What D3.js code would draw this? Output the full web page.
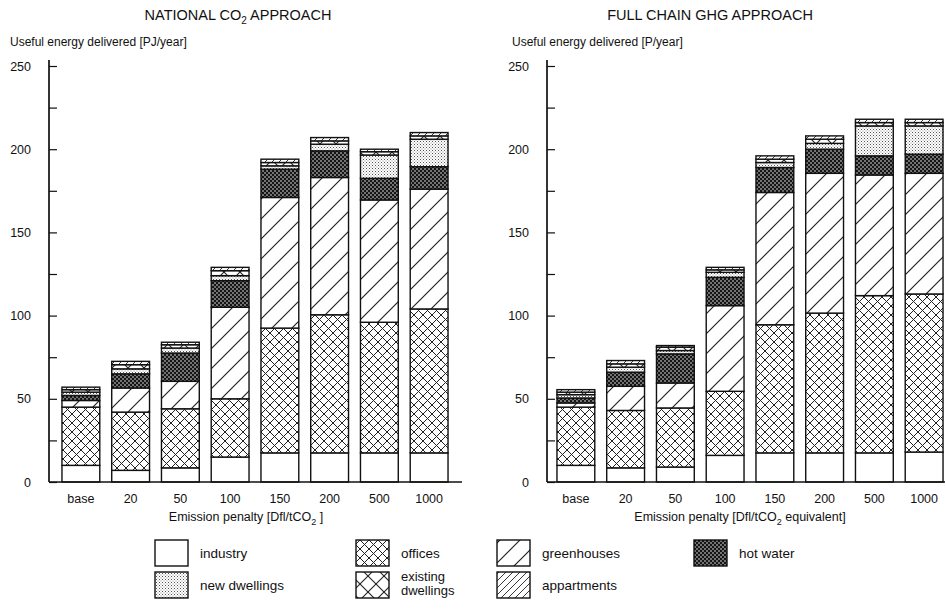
<!DOCTYPE html>
<html><head><meta charset="utf-8">
<script src="https://cdn.jsdelivr.net/npm/d3@7"></script>
<style>
body{margin:0;background:#fff;}
text{font-family:"Liberation Sans",Arial,Helvetica,sans-serif;fill:#111;}
</style></head>
<body><svg id="c" width="946" height="610"></svg>
<script>
const categories = ["base","20","50","100","150","200","500","1000"];
const seriesNames = ["industry","offices","greenhouses","hot water","new dwellings","existing dwellings","appartments"];
const yTicks = [0,25,50,75,100,125,150,175,200,225,250];

// NATIONAL CO2 APPROACH (PJ/year)
const natIndustry   = [10, 7, 8.5, 15, 17.5, 17.5, 17.5, 17.5];
const natOffices    = [35, 35, 35.5, 35, 75, 83, 78.5, 86.5];
const natGreenhouse = [4, 14.5, 16.5, 55, 78.5, 82.5, 73.5, 72];
const natHotWater   = [3, 8.5, 17, 16, 17, 16, 13, 13.5];
const natNewDwell   = [2, 3, 3, 3, 2, 4, 14, 16.5];
const natExistDwell = [1.5, 2.5, 2, 3, 2, 2, 2, 2];
const natAppart     = [1.5, 2, 1.5, 2, 2, 2, 1.5, 2];

// FULL CHAIN GHG APPROACH (PJ/year)
const fullIndustry   = [10, 8.5, 9, 16, 17.5, 17.5, 17.5, 18];
const fullOffices    = [35, 34.5, 35.5, 38.5, 77, 84, 94.5, 95];
const fullGreenhouse = [2.5, 14.5, 15, 51.5, 79.5, 84, 72.5, 72.5];
const fullHotWater   = [3, 8.5, 17.5, 17, 15, 14.5, 11.5, 11.5];
const fullNewDwell   = [2, 3, 2, 3, 3, 3.5, 18, 17];
const fullExistDwell = [1.5, 2, 2, 1.5, 2, 2.5, 2, 2];
const fullAppart     = [1.5, 2, 1, 1.5, 2, 2, 2, 2];

const svg = d3.select("#c");
const defs = svg.append("defs");

function hatch(id, size, paths, bg, sw, color){
  const p = defs.append("pattern").attr("id", id).attr("patternUnits","userSpaceOnUse")
    .attr("width", size).attr("height", size);
  p.append("rect").attr("width", size).attr("height", size).attr("fill", bg);
  paths.forEach(d => p.append("path").attr("d", d).attr("stroke", color).attr("stroke-width", sw).attr("fill","none"));
  return p;
}
function diagUp(s){ return `M0,${s} L${s},0 M${-s/2},${s/2} L${s/2},${-s/2} M${s/2},${s*1.5} L${s*1.5},${s/2}`; }
function diagDown(s){ return `M0,0 L${s},${s} M${-s/2},${s/2} L${s/2},${s*1.5} M${s/2},${-s/2} L${s*1.5},${s/2}`; }
hatch("p-offices", 9, [diagUp(9), diagDown(9)], "#fff", 1, "#222");
hatch("p-exist", 16, [diagUp(16), diagDown(16)], "#fff", 1.1, "#222");
hatch("p-green", 20, [diagUp(20)], "#fff", 1.2, "#222");
hatch("p-appart", 7, [diagUp(7)], "#fff", 0.9, "#222");
{
  const p = defs.append("pattern").attr("id","p-hot").attr("patternUnits","userSpaceOnUse").attr("width",4).attr("height",4);
  p.append("rect").attr("width",4).attr("height",4).attr("fill","#151515");
  p.append("circle").attr("cx",1).attr("cy",1).attr("r",0.75).attr("fill","#fff");
  p.append("circle").attr("cx",3).attr("cy",3).attr("r",0.75).attr("fill","#fff");
}
{
  const p = defs.append("pattern").attr("id","p-new").attr("patternUnits","userSpaceOnUse").attr("width",3).attr("height",3);
  p.append("rect").attr("width",3).attr("height",3).attr("fill","#fff");
  p.append("rect").attr("x",0).attr("y",0).attr("width",1).attr("height",1).attr("fill","#555");
  p.append("rect").attr("x",1.5).attr("y",1.5).attr("width",1).attr("height",1).attr("fill","#888");
}
const fills = {
  "industry":"#fff",
  "offices":"url(#p-offices)",
  "greenhouses":"url(#p-green)",
  "hot water":"url(#p-hot)",
  "new dwellings":"url(#p-new)",
  "existing dwellings":"url(#p-exist)",
  "appartments":"url(#p-appart)"
};

const y = d3.scaleLinear().domain([0,250]).range([482,66]);

function buildRows(arrs){
  return categories.map((c,i) => {
    const r = {cat:c};
    seriesNames.forEach((s,k) => r[s] = arrs[k][i]);
    return r;
  });
}

function drawPanel(opts){
  const g = svg.append("g");
  const x = d3.scaleBand().domain(categories).range(opts.xr).paddingInner(0.24).paddingOuter(0.12);
  const rows = buildRows(opts.arrs);
  const stacked = d3.stack().keys(seriesNames)(rows);

  stacked.forEach(layer => {
    g.append("g").selectAll("rect").data(layer).join("rect")
      .attr("x", d => x(d.data.cat))
      .attr("width", x.bandwidth())
      .attr("y", d => y(d[1]))
      .attr("height", d => y(d[0]) - y(d[1]))
      .attr("fill", fills[layer.key])
      .attr("stroke", "#111").attr("stroke-width", 1.4);
  });

  const ya = d3.axisLeft(y).tickValues(yTicks).tickSizeInner(-8).tickSizeOuter(0)
    .tickPadding(18).tickFormat(d => d % 50 === 0 ? d : "");
  const ag = g.append("g").attr("transform", `translate(${opts.ax},0)`).call(ya);
  ag.select(".domain").attr("stroke","#111").attr("stroke-width",1.7).attr("d", `M0,${y(0)}V${y(250)-6}`);
  ag.selectAll(".tick line").attr("stroke","#111").attr("stroke-width",1.2);
  ag.selectAll(".tick text").attr("font-size",12.5).attr("font-family","Liberation Sans, Arial, sans-serif").attr("fill","#111");

  const xa = d3.axisBottom(x).tickSize(0).tickPadding(12);
  const xg = g.append("g").attr("transform", `translate(0,${y(0)})`).call(xa);
  xg.select(".domain").remove();
  xg.selectAll(".tick text").attr("font-size",12.5).attr("font-family","Liberation Sans, Arial, sans-serif").attr("fill","#111");
  g.append("line").attr("x1", opts.ax).attr("x2", opts.xend).attr("y1", y(0)).attr("y2", y(0))
    .attr("stroke","#111").attr("stroke-width",1.7);

  const t = g.append("text").attr("x", opts.tx).attr("y", 20).attr("text-anchor","middle").attr("font-size",14.5);
  opts.title(t);
  g.append("text").attr("x", opts.ylx).attr("y", 46).attr("font-size",12).text(opts.ylabel);
  const xt = g.append("text").attr("x", opts.xtx).attr("y", 521).attr("text-anchor","middle").attr("font-size",12.5);
  opts.xtitle(xt);
}

drawPanel({
  arrs:[natIndustry,natOffices,natGreenhouse,natHotWater,natNewDwell,natExistDwell,natAppart],
  xr:[56,454], ax:49, xend:462, tx:238, ylx:10, xtx:246,
  ylabel:"Useful energy delivered [PJ/year]",
  title: t => { t.append("tspan").text("NATIONAL CO"); t.append("tspan").attr("font-size",10).attr("dy",4).text("2"); t.append("tspan").attr("dy",-4).text(" APPROACH"); },
  xtitle: t => { t.append("tspan").text("Emission penalty [Dfl/tCO"); t.append("tspan").attr("font-size",9).attr("dy",4).text("2"); t.append("tspan").attr("dy",-4).text(" ]"); }
});
drawPanel({
  arrs:[fullIndustry,fullOffices,fullGreenhouse,fullHotWater,fullNewDwell,fullExistDwell,fullAppart],
  xr:[551,949], ax:547, xend:945, tx:710, ylx:512, xtx:740,
  ylabel:"Useful energy delivered [P/year]",
  title: t => { t.text("FULL CHAIN GHG APPROACH"); },
  xtitle: t => { t.append("tspan").text("Emission penalty [Dfl/tCO"); t.append("tspan").attr("font-size",9).attr("dy",4).text("2"); t.append("tspan").attr("dy",-4).text("  equivalent]"); }
});

const legendItems = [
  {name:"industry", x:155, y:540},
  {name:"offices", x:356, y:540},
  {name:"greenhouses", x:497, y:540},
  {name:"hot water", x:694, y:540},
  {name:"new dwellings", x:155, y:572},
  {name:"existing dwellings", x:356, y:572},
  {name:"appartments", x:497, y:572}
];
const lg = svg.append("g");
legendItems.forEach(it => {
  lg.append("rect").attr("x", it.x).attr("y", it.y).attr("width", 33).attr("height", 26)
    .attr("fill", fills[it.name]).attr("stroke","#111").attr("stroke-width",1.4);
  if (it.name === "existing dwellings") {
    lg.append("text").attr("x", it.x + 45).attr("y", it.y + 9).attr("font-size",13).text("existing");
    lg.append("text").attr("x", it.x + 45).attr("y", it.y + 23).attr("font-size",13).text("dwellings");
  } else {
    lg.append("text").attr("x", it.x + 45).attr("y", it.y + 18).attr("font-size",13.5).text(it.name);
  }
});
</script></body></html>
